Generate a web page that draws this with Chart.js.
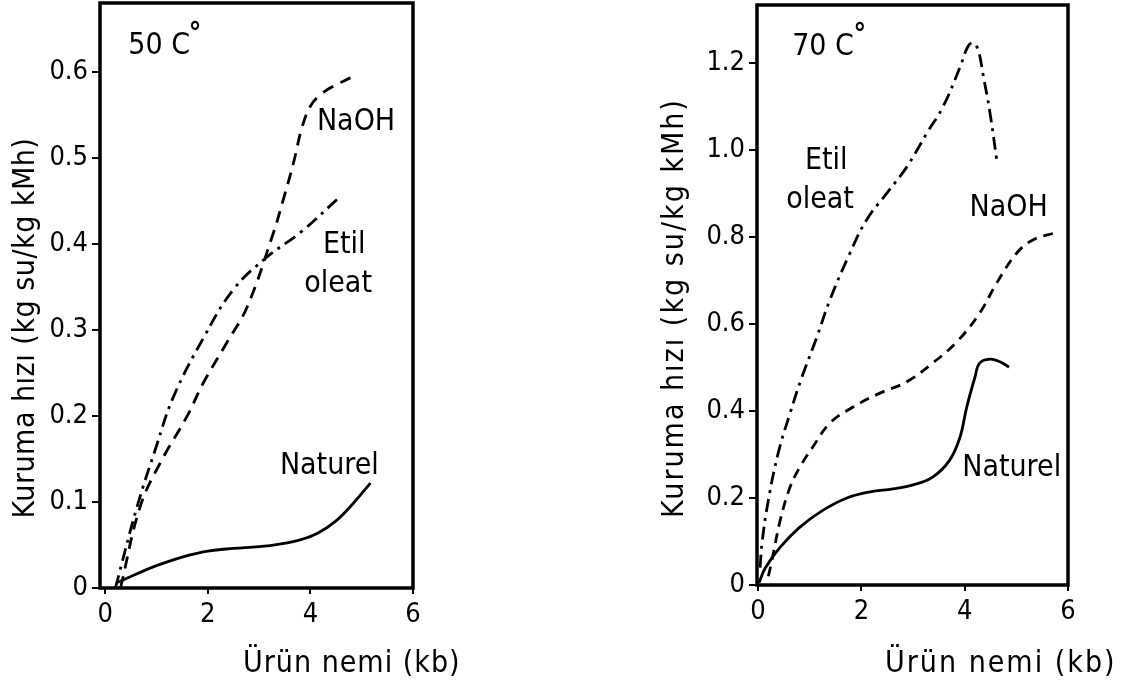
<!DOCTYPE html>
<html>
<head>
<meta charset="utf-8">
<script src="https://cdn.jsdelivr.net/npm/chart.js@4.4.1/dist/chart.umd.min.js"></script>
<style>
  html, body { margin: 0; padding: 0; background: #fff; }
  #wrap { position: relative; width: 1124px; height: 687px; }
  #wrap canvas { position: absolute; left: 0; top: 0; }
</style>
</head>
<body>
<div id="wrap">
  <canvas id="c50" width="1124" height="687"></canvas>
  <canvas id="c70" width="1124" height="687"></canvas>
</div>
<script>
const W = 1124, H = 687;
const FONT = "'DejaVu Sans Condensed', 'DejaVu Sans', sans-serif";

// shared x ticks (Ürün nemi, kb)
const xTicks = [0, 2, 4, 6];

// 50 C panel
const yTicks50 = [0, 0.1, 0.2, 0.3, 0.4, 0.5, 0.6];
const naoh50X = [0.3, 0.68, 1.07, 1.6, 1.91, 2.37, 2.77, 3.28, 3.47, 3.67, 3.84, 4.0, 4.19, 4.44, 4.78];
const naoh50Y = [0.0, 0.094, 0.145, 0.2, 0.238, 0.285, 0.327, 0.413, 0.451, 0.494, 0.536, 0.56, 0.573, 0.583, 0.593];
const etil50X = [0.2, 0.62, 1.0, 1.33, 1.91, 2.5, 3.16, 3.8, 4.58];
const etil50Y = [0.0, 0.094, 0.165, 0.222, 0.29, 0.347, 0.385, 0.413, 0.455];
const naturel50X = [0.22, 0.6, 1.0, 1.5, 2.0, 2.5, 3.0, 3.4, 3.8, 4.15, 4.5, 4.83, 5.17];
const naturel50Y = [0.006, 0.016, 0.026, 0.036, 0.043, 0.046, 0.048, 0.051, 0.056, 0.064, 0.078, 0.098, 0.122];

// 70 C panel
const yTicks70 = [0, 0.2, 0.4, 0.6, 0.8, 1.0, 1.2];
const etil70X = [0.04, 0.08, 0.2, 0.39, 0.62, 0.85, 1.14, 1.39, 1.78, 2.1, 2.49, 2.88, 3.27, 3.58, 3.91, 4.06, 4.16, 4.26, 4.35, 4.49, 4.62];
const etil70Y = [0.04, 0.1, 0.195, 0.303, 0.395, 0.478, 0.57, 0.655, 0.763, 0.839, 0.9, 0.961, 1.039, 1.099, 1.19, 1.237, 1.246, 1.23, 1.177, 1.085, 0.977];
const naoh70X = [0.2, 0.27, 0.43, 0.62, 0.81, 1.06, 1.39, 1.84, 2.36, 2.88, 3.38, 3.85, 4.29, 4.62, 5.01, 5.32, 5.74];
const naoh70Y = [0.02, 0.057, 0.149, 0.225, 0.271, 0.317, 0.372, 0.409, 0.441, 0.467, 0.51, 0.559, 0.625, 0.694, 0.763, 0.793, 0.809];
const naturel70X = [0.02, 0.14, 0.43, 0.81, 1.26, 1.72, 2.17, 2.61, 3.0, 3.38, 3.71, 3.91, 4.04, 4.2, 4.29, 4.49, 4.68, 4.86];
const naturel70Y = [0.005, 0.039, 0.087, 0.133, 0.172, 0.2, 0.214, 0.221, 0.23, 0.248, 0.287, 0.34, 0.409, 0.478, 0.51, 0.519, 0.513, 0.501];

const DASHED = [12, 8];
const DASHDOT = [13, 6, 3, 6];

function pts(xs, ys) {
  return xs.map((x, i) => ({ x: x, y: ys[i] }));
}

function fmt(v) {
  if (v === 0) return '0';
  return Number.isInteger(v) && v > 1.5 ? String(v) : v.toFixed(1);
}

// thick box round the plot
const frame = {
  id: 'frame',
  afterDatasetsDraw(chart) {
    const a = chart.chartArea, ctx = chart.ctx;
    ctx.save();
    ctx.strokeStyle = '#000';
    ctx.lineWidth = 3.5;
    ctx.strokeRect(a.left, a.top, a.right - a.left, a.bottom - a.top);
    ctx.restore();
  }
};

// curve labels, temperature and axis titles
const notes = {
  id: 'notes',
  afterDraw(chart, args, opts) {
    const ctx = chart.ctx, sx = chart.scales.x, sy = chart.scales.y, a = chart.chartArea;
    ctx.save();
    ctx.fillStyle = '#000';
    ctx.textBaseline = 'middle';
    opts.labels.forEach(l => {
      ctx.font = (l.bold ? 'bold ' : '') + l.size + 'px ' + FONT;
      ctx.textAlign = l.align || 'center';
      ctx.fillText(l.text, sx.getPixelForValue(l.x), sy.getPixelForValue(l.y));
    });

    const xt = opts.xTitle;
    ctx.font = xt.size + 'px ' + FONT;
    ctx.letterSpacing = xt.spacing + 'px';
    ctx.textAlign = 'left';
    ctx.fillText(xt.text, a.left + xt.dx, a.bottom + xt.dy);

    const yt = opts.yTitle;
    ctx.font = yt.size + 'px ' + FONT;
    ctx.letterSpacing = yt.spacing + 'px';
    ctx.textAlign = 'center';
    ctx.translate(a.left + yt.dx, yt.cy);
    ctx.rotate(-Math.PI / 2);
    ctx.fillText(yt.text, 0, 0);
    ctx.restore();
  }
};

function makeChart(id, cfg) {
  const box = cfg.box;
  return new Chart(document.getElementById(id), {
    type: 'scatter',
    data: {
      datasets: cfg.series.map(s => ({
        label: s.label,
        data: pts(s.x, s.y),
        showLine: true,
        borderColor: '#000',
        borderWidth: 2.8,
        borderDash: s.dash,
        pointRadius: 0,
        tension: 0.4,
        fill: false
      }))
    },
    options: {
      responsive: false,
      animation: false,
      devicePixelRatio: 1,
      layout: { padding: { left: 0, top: box.top, right: W - box.right, bottom: 0 } },
      plugins: {
        legend: { display: false },
        tooltip: { enabled: false },
        notes: { labels: cfg.labels, xTitle: cfg.xTitle, yTitle: cfg.yTitle }
      },
      scales: {
        x: {
          type: 'linear',
          min: cfg.xMin,
          max: 6,
          afterBuildTicks: s => { s.ticks = xTicks.map(v => ({ value: v })); },
          afterFit: s => { s.height = H - box.bottom; s.paddingLeft = 0; s.paddingRight = 0; },
          border: { display: false },
          grid: { drawOnChartArea: false, drawTicks: true, tickLength: 6, color: '#000', lineWidth: 2 },
          ticks: { color: '#000', font: { family: FONT, size: 27 }, padding: 5, maxRotation: 0, autoSkip: false, callback: v => fmt(v) }
        },
        y: {
          type: 'linear',
          min: 0,
          max: cfg.yMax,
          afterBuildTicks: s => { s.ticks = cfg.yTicks.map(v => ({ value: v })); },
          afterFit: s => { s.width = box.left; s.paddingTop = 0; s.paddingBottom = 0; },
          border: { display: false },
          grid: { drawOnChartArea: false, drawTicks: true, tickLength: 8, color: '#000', lineWidth: 2 },
          ticks: { color: '#000', font: { family: FONT, size: 27 }, padding: 4, autoSkip: false, callback: v => fmt(v) }
        }
      }
    },
    plugins: [frame, notes]
  });
}

const yTitleText = 'Kuruma hızı (kg su/kg kMh)';
const xTitleText = 'Ürün nemi (kb)';

makeChart('c50', {
  box: { left: 100, top: 3, right: 413, bottom: 588 },
  xMin: -0.1,
  yMax: 0.68,
  yTicks: yTicks50,
  series: [
    { label: 'NaOH', x: naoh50X, y: naoh50Y, dash: DASHED },
    { label: 'Etil oleat', x: etil50X, y: etil50Y, dash: DASHDOT },
    { label: 'Naturel', x: naturel50X, y: naturel50Y, dash: [] }
  ],
  labels: [
    { text: '50 C', x: 0.45, y: 0.63, size: 30, align: 'left' },
    { text: '°', x: 1.75, y: 0.643, size: 28, bold: true },
    { text: 'NaOH', x: 4.89, y: 0.541, size: 30 },
    { text: 'Etil', x: 4.66, y: 0.399, size: 30 },
    { text: 'oleat', x: 4.54, y: 0.353, size: 30 },
    { text: 'Naturel', x: 4.37, y: 0.142, size: 30 }
  ],
  xTitle: { text: xTitleText, dx: 143, dy: 76, size: 30, spacing: 1 },
  yTitle: { text: yTitleText, dx: -74, cy: 328, size: 30, spacing: 0.5 }
});

makeChart('c70', {
  box: { left: 757, top: 5, right: 1068, bottom: 585 },
  xMin: -0.02,
  yMax: 1.333,
  yTicks: yTicks70,
  series: [
    { label: 'Etil oleat', x: etil70X, y: etil70Y, dash: DASHDOT },
    { label: 'NaOH', x: naoh70X, y: naoh70Y, dash: [10, 7] },
    { label: 'Naturel', x: naturel70X, y: naturel70Y, dash: [] }
  ],
  labels: [
    { text: '70 C', x: 0.66, y: 1.237, size: 30, align: 'left' },
    { text: '°', x: 1.97, y: 1.262, size: 28, bold: true },
    { text: 'Etil', x: 1.32, y: 0.975, size: 30 },
    { text: 'oleat', x: 1.2, y: 0.885, size: 30 },
    { text: 'NaOH', x: 4.85, y: 0.867, size: 30 },
    { text: 'Naturel', x: 4.91, y: 0.269, size: 30 }
  ],
  xTitle: { text: xTitleText, dx: 128, dy: 79, size: 30, spacing: 2 },
  yTitle: { text: yTitleText, dx: -82, cy: 308, size: 30, spacing: 2 }
});
</script>
</body>
</html>
